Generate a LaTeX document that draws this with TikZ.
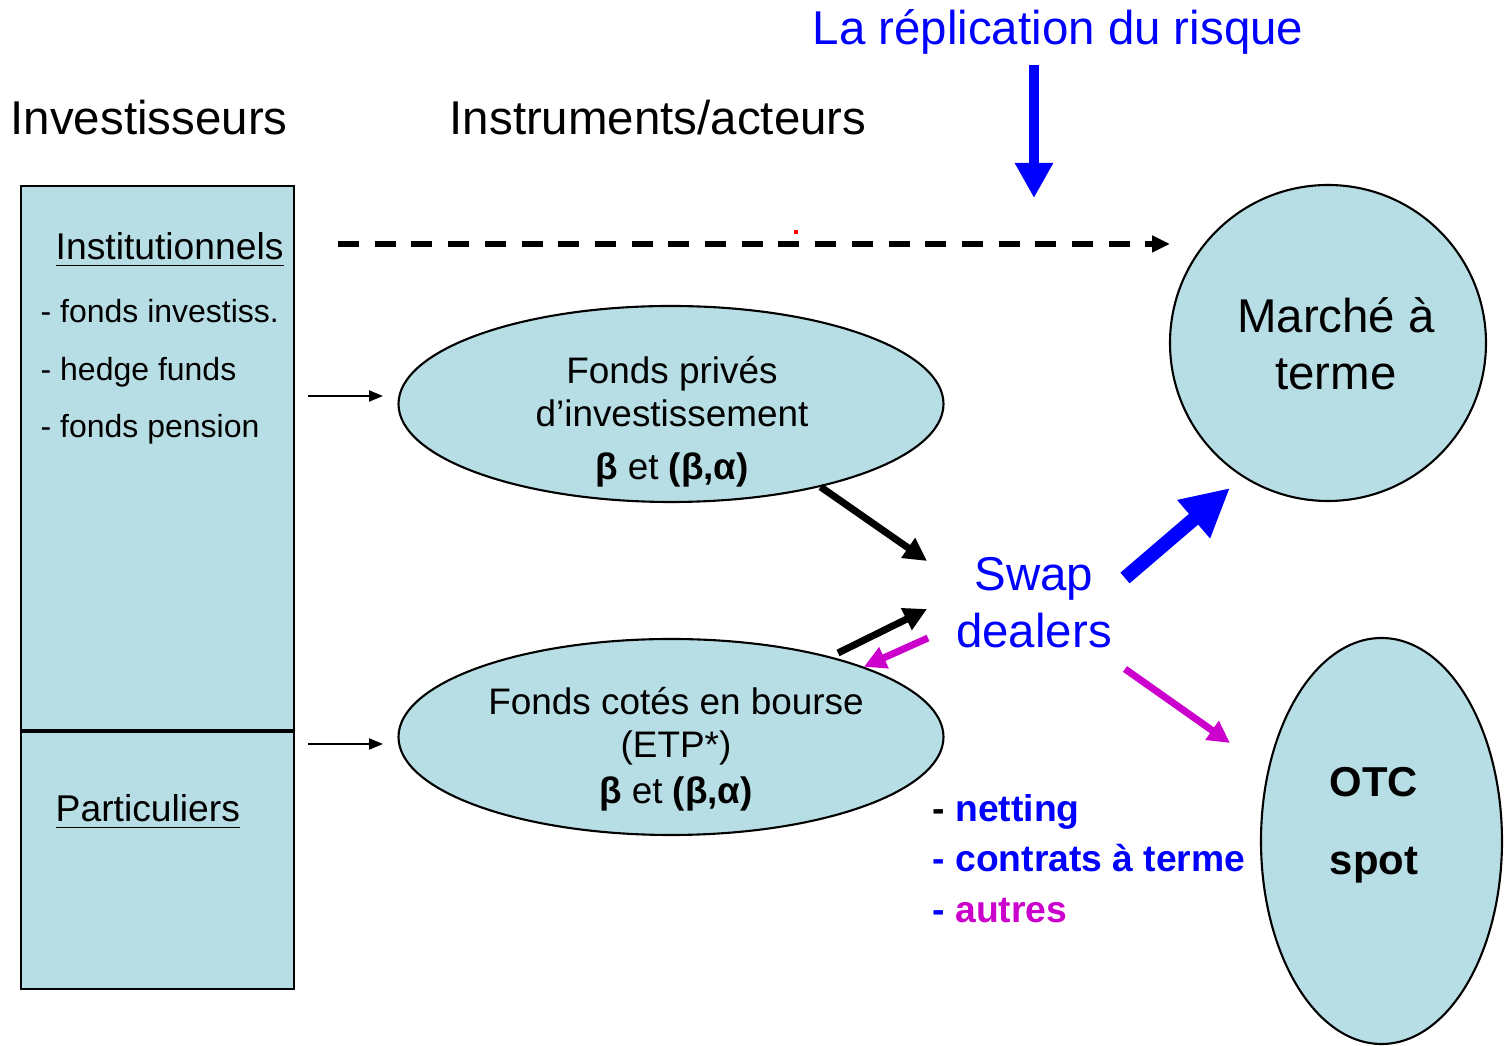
\documentclass[tikz,border=0pt]{standalone}
\usepackage{fontspec}
\setmainfont{Liberation Sans}
\usetikzlibrary{arrows.meta, positioning, shapes.geometric}
\definecolor{cellblue}{RGB}{183,222,228}
\definecolor{dealblue}{RGB}{0,0,255}
\definecolor{otcpink}{RGB}{204,0,204}

\begin{document}
\begin{tikzpicture}[
  big/.style={font=\fontsize{13.5}{16.2}\selectfont},
  mid/.style={font=\fontsize{10.6}{12.7}\selectfont, inner sep=0pt},
  small/.style={font=\fontsize{9.1}{11}\selectfont, inner sep=0pt},
  cell/.style={rectangle, draw, line width=0.6pt, fill=cellblue, minimum width=2.73cm, inner sep=0pt},
  fund/.style={ellipse, draw, line width=0.6pt, fill=cellblue, inner sep=0pt},
  fundtxt/.style={align=center, font=\fontsize{10.5}{12.2}\selectfont},
  thinarr/.style={-{Triangle[length=1.4mm,width=1.1mm]}, line width=0.6pt},
  blackarr/.style={-{Triangle[length=2.3mm,width=2.3mm]}, line width=2pt},
  pinkarr/.style={-{Triangle[length=2.2mm,width=2.2mm]}, line width=2pt, otcpink},
  dasharr/.style={-{Triangle[length=1.8mm,width=1.6mm]}, line width=1.6pt, dash pattern=on 2.1mm off 1.57mm},
  listitem/.style={anchor=base west, inner sep=0pt, font=\fontsize{10.6}{12.7}\selectfont\bfseries},
]
  \useasboundingbox (0,0) rectangle (15.09,-10.46);

  % Headings
  \node[big, anchor=base west, inner sep=0pt, text=dealblue] (title) at (8.12,-0.45) {La réplication du risque};
  \node[big, anchor=base west, inner sep=0pt] (inv) at (0.10,-1.35) {Investisseurs};
  \node[big, anchor=base west, inner sep=0pt] (instr) at (4.49,-1.35) {Instruments/acteurs};

  % Investors column
  \node[cell, minimum height=5.44cm, anchor=north west] (instbox) at (0.20,-1.85) {};
  \node[cell, minimum height=2.57cm, anchor=north] (partbox) at (instbox.south) {};
  \node[mid, anchor=base west] (inst) at (0.55,-2.60) {\underline{Institutionnels}};
  \node[small, anchor=base west] (inst1) at (0.40,-3.23) {- fonds investiss.};
  \node[small, anchor=base west] (inst2) at (0.40,-3.81) {- hedge funds};
  \node[small, anchor=base west] (inst3) at (0.40,-4.38) {- fonds pension};
  \node[mid, anchor=base west] (part) at (0.55,-8.22) {\underline{Particuliers}};

  % Funds
  \node[fund, minimum width=5.45cm, minimum height=1.96cm] (prive) at (6.71,-4.04) {};
  \node[fundtxt] (privetxt) at (6.72,-4.22) {Fonds privés\\d’investissement\\[3pt]\textbf{β} et \textbf{(β,α)}};
  \node[fund, minimum width=5.45cm, minimum height=1.96cm] (cote) at (6.71,-7.37) {};
  \node[fundtxt] (cotetxt) at (6.76,-7.49) {Fonds cotés en bourse\\(ETP*)\\[0.8pt]\textbf{β} et \textbf{(β,α)}};

  % Markets
  \node[circle, draw, line width=0.6pt, fill=cellblue, minimum size=3.16cm, inner sep=0pt] (marche) at (13.28,-3.43) {};
  \node[big, align=center] (marchetxt) at (13.36,-3.44) {Marché à\\terme};
  \node[fund, minimum width=2.41cm, minimum height=4.06cm] (otc) at (13.815,-8.41) {};
  \node[align=center, font=\fontsize{11.9}{22.2}\selectfont\bfseries] (otctxt) at (13.74,-8.25) {OTC\\spot};

  % Swap dealers
  \node[big, text=dealblue, align=center] (swap) at (10.34,-6.03) {Swap\\dealers};
  \node[listitem] (net) at (9.32,-8.22) {- \textcolor{dealblue}{netting}};
  \node[listitem, text=dealblue] (ctr) at (9.32,-8.72) {- contrats à terme};
  \node[listitem, text=dealblue] (aut) at (9.32,-9.23) {- \textcolor{otcpink}{autres}};

  % End points
  \coordinate (reptop) at (10.34,-0.65);
  \coordinate (repbot) at (10.34,-1.98);
  \coordinate (dashstart) at (3.38,-2.44);
  \coordinate (dashend) at (11.70,-2.44);
  \coordinate (instout) at (3.08,-3.96);
  \coordinate (instin) at (3.83,-3.96);
  \coordinate (partout) at (3.08,-7.44);
  \coordinate (partin) at (3.83,-7.44);
  \coordinate (swapin1) at (9.27,-5.61);
  \coordinate (swapin2) at (9.27,-6.09);
  \coordinate (swapout) at (9.28,-6.38);
  \coordinate (swapup) at (11.25,-5.78);
  \coordinate (marchein) at (12.30,-4.88);
  \coordinate (swapdown) at (11.25,-6.69);
  \coordinate (otcin) at (12.30,-7.43);

  % Connections
  \draw[-{Triangle[length=3.5mm,width=3.6mm]}, line width=2.85pt, dealblue] (reptop) -- (repbot);
  \draw[dasharr] (dashstart) -- (dashend);
  \fill[red] (7.94,-2.30) rectangle (7.98,-2.34);
  \draw[thinarr] (instout) -- (instin);
  \draw[thinarr] (partout) -- (partin);
  \draw[blackarr] (prive.-29) -- (swapin1);
  \draw[blackarr] (8.38,-6.53) -- (swapin2);
  \draw[pinkarr] (swapout) -- (cote.20);
  \draw[-{Triangle[length=4.8mm,width=4.7mm]}, line width=4pt, dealblue] (swapup) -- (marchein);
  \draw[pinkarr] (swapdown) -- (otcin);
\end{tikzpicture}
\end{document}
